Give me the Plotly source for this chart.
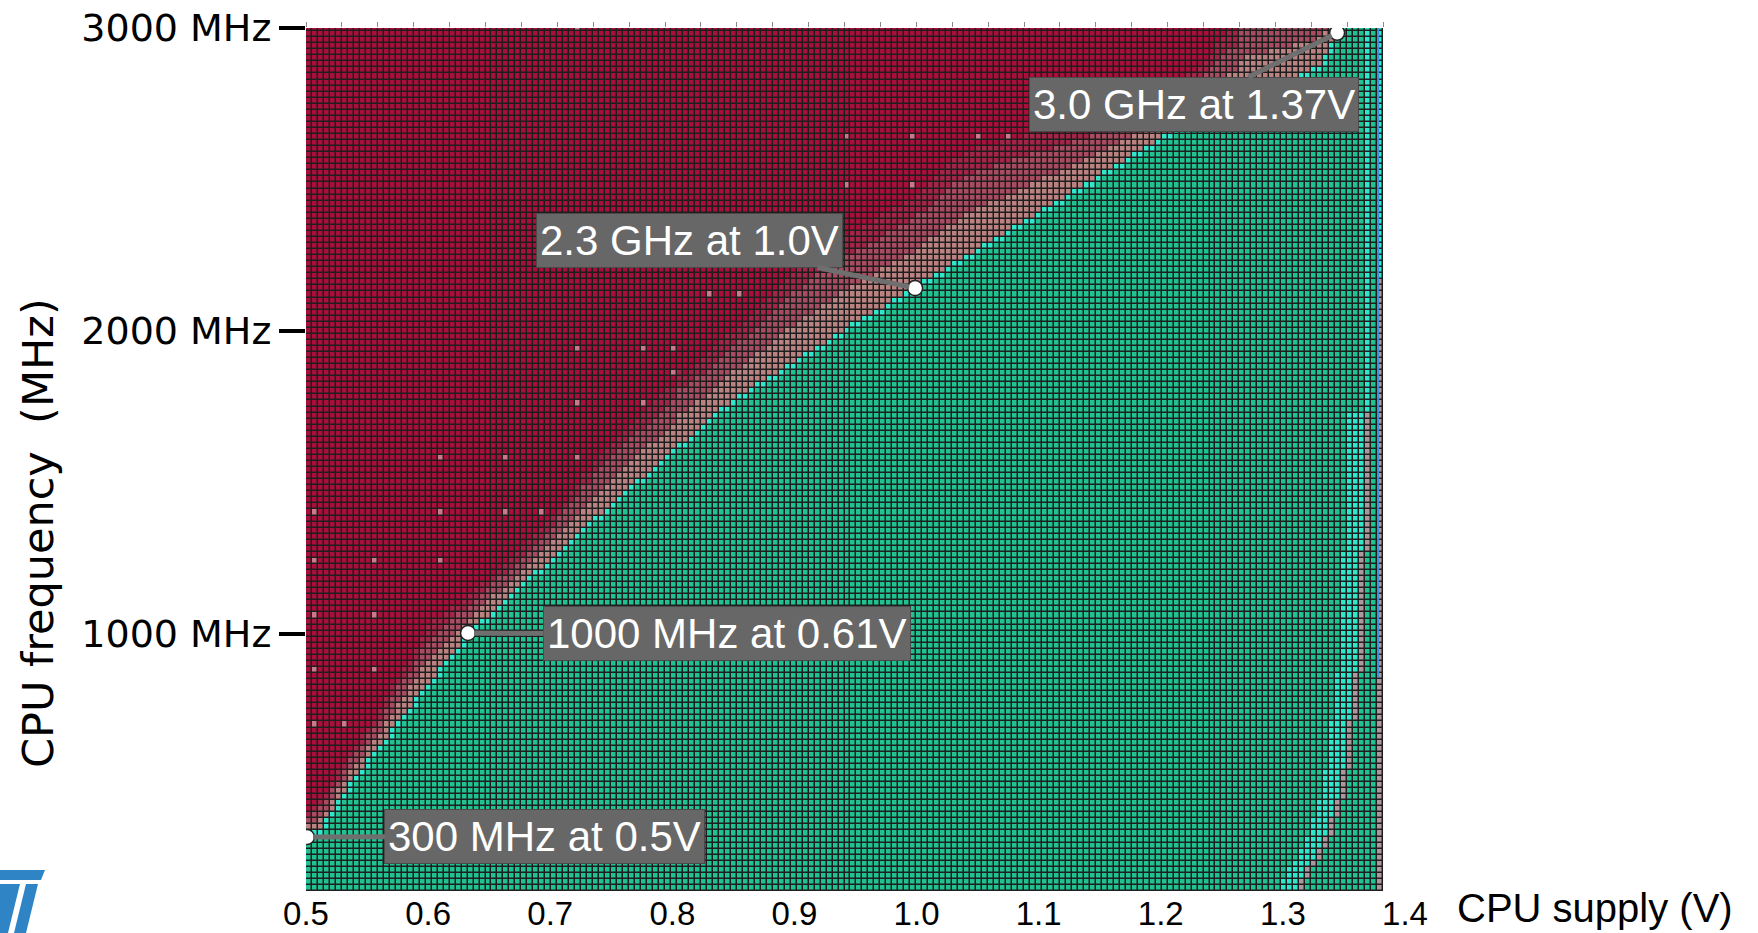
import numpy as np
import plotly.graph_objects as go

# ---------------- data ----------------
# shmoo grid
N_COLS = 180            # supply-voltage steps
V_START = 0.5           # V, left edge of the first column
V_STEP = 0.0049         # V per column
N_ROWS = 143            # frequency steps
F_START = 160           # MHz, centre of the lowest row
F_STEP = 20             # MHz per row

# highest passing frequency for every voltage column (MHz)
PASS_MAX_MHZ = [
    330, 340, 350, 380, 410, 440, 470, 500, 530, 555,
    580, 605, 630, 655, 680, 705, 730, 755, 780, 805,
    830, 855, 880, 905, 930, 955, 980, 1000, 1020, 1040,
    1055, 1075, 1090, 1110, 1125, 1145, 1160, 1180, 1200, 1215,
    1235, 1250, 1270, 1290, 1305, 1325, 1340, 1360, 1380, 1395,
    1415, 1430, 1450, 1465, 1485, 1500, 1515, 1535, 1550, 1570,
    1585, 1600, 1620, 1635, 1655, 1670, 1685, 1705, 1720, 1740,
    1755, 1770, 1783, 1795, 1808, 1820, 1833, 1845, 1858, 1870,
    1883, 1895, 1908, 1920, 1933, 1945, 1958, 1970, 1983, 1995,
    2008, 2020, 2030, 2042, 2054, 2066, 2078, 2090, 2102, 2114,
    2124, 2136, 2148, 2160, 2172, 2184, 2196, 2208, 2220, 2232,
    2244, 2256, 2268, 2280, 2292, 2304, 2316, 2328, 2340, 2352,
    2364, 2376, 2388, 2400, 2412, 2424, 2436, 2448, 2460, 2472,
    2484, 2496, 2508, 2520, 2532, 2544, 2556, 2568, 2580, 2592,
    2604, 2616, 2628, 2640, 2652, 2661, 2670, 2679, 2688, 2697,
    2706, 2715, 2724, 2733, 2742, 2750, 2759, 2768, 2777, 2786,
    2795, 2804, 2813, 2822, 2830, 2839, 2848, 2857, 2866, 2875,
    2910, 2945, 2980, 3000, 3000, 3000, 3000, 3000, 3000, 3000,
]

# lowest frequency that fails every run, per voltage column (MHz)
FAIL_MIN_MHZ = [
    420, 430, 450, 480, 510, 545, 580, 615, 640, 665,
    690, 720, 750, 790, 830, 860, 890, 920, 960, 1000,
    1030, 1045, 1060, 1075, 1090, 1100, 1110, 1130, 1150, 1165,
    1180, 1200, 1215, 1230, 1250, 1265, 1290, 1310, 1330, 1350,
    1370, 1395, 1420, 1440, 1470, 1490, 1530, 1540, 1570, 1590,
    1615, 1640, 1660, 1680, 1700, 1720, 1735, 1750, 1770, 1790,
    1805, 1820, 1880, 1860, 1880, 1900, 1915, 1930, 1950, 1965,
    1985, 2000, 2020, 2040, 2060, 2080, 2100, 2120, 2140, 2160,
    2180, 2200, 2215, 2235, 2250, 2265, 2280, 2290, 2300, 2310,
    2320, 2330, 2340, 2350, 2360, 2375, 2390, 2400, 2410, 2420,
    2430, 2440, 2460, 2480, 2500, 2520, 2540, 2560, 2570, 2580,
    2590, 2600, 2605, 2610, 2615, 2620, 2625, 2630, 2635, 2640,
    2645, 2650, 2650, 2655, 2660, 2660, 2665, 2670, 2675, 2680,
    2685, 2690, 2700, 2705, 2710, 2720, 2730, 2740, 2745, 2750,
    2760, 2770, 2780, 2790, 2800, 2815, 2830, 2845, 2860, 2880,
    2900, 2920, 2950, 2975, 2990, 3000, 3100, 3100, 3100, 3100,
    3100, 3100, 3100, 3100, 3100, 3100, 3100, 3100, 3100, 3100,
    3100, 3100, 3100, 3100, 3100, 3100, 3100, 3100, 3100, 3100,
]

# isolated odd results inside the failing area (V, MHz)
SPECKLE_V = [0.5074, 0.5074, 0.5319, 0.5074, 0.5564, 0.5074, 0.5564, 0.5074, 0.5564,
             0.6103, 0.6103, 0.6642, 0.6936, 0.6103, 0.6642, 0.7230, 0.7230, 0.7769,
             0.7230, 0.7769, 0.8014, 0.8014, 0.8308, 0.8553, 0.9435, 0.9974, 1.0513,
             1.0758, 0.9435, 0.9974, 0.7230]
SPECKLE_MHZ = [700, 880, 700, 1060, 880, 1240, 1060, 1400, 1240,
               1240, 1400, 1400, 1400, 1580, 1580, 1580, 1760, 1760,
               1940, 1940, 1940, 1860, 2120, 2120, 2640, 2640, 2640,
               2640, 2480, 2480, 3000]

# high-voltage failure edge at low frequency: column voltage and top of each run (MHz)
HV_EDGE_V = [1.3159, 1.3208, 1.3257, 1.3306, 1.3355, 1.3404, 1.3453, 1.3502,
             1.3551, 1.3600, 1.3649, 1.3698]
HV_EDGE_TOP_MHZ = [180, 220, 240, 280, 320, 380, 440, 540, 700, 860, 1260, 1720]
LAST_COL_GRAY_MAX_MHZ = 2160

# supply limit line (V) and its frequency span (MHz)
LIMIT_V = 1.378
LIMIT_F = [856, 3000]

# annotated operating points
MARK_V = [0.5008, 0.6327, 0.9988, 1.3444]
MARK_F = [328, 1002, 2141, 2984]
MARK_TEXT = ["300 MHz at 0.5V", "1000 MHz at 0.61V", "2.3 GHz at 1.0V", "3.0 GHz at 1.37V"]

X_TICKS = [0.5, 0.6, 0.7, 0.8, 0.9, 1.0, 1.1, 1.2, 1.3, 1.4]
X_TICK_TEXT = ["0.5", "0.6", "0.7", "0.8", "0.9", "1.0", "1.1", "1.2", "1.3", "1.4"]
Y_TICKS = [1000, 2000, 3000]
Y_TICK_TEXT = ["1000 MHz", "2000 MHz", "3000 MHz"]

# ---------------- build the shmoo matrix ----------------
PASS, EDGE, GRAY, MIX, MIX2, FAIL, SPECK, HVG = range(8)
COLORS = ["#1fc290", "#30e6cb", "#bb8282", "#a94c62", "#a42548",
          "#a90f3a", "#cc7a8a", "#ad989d"]

V = V_START + V_STEP * (np.arange(N_COLS) + 0.5)
F = F_START + F_STEP * np.arange(N_ROWS)
z = np.full((N_ROWS, N_COLS), FAIL, dtype=int)

for c in range(N_COLS):
    p, q = PASS_MAX_MHZ[c], FAIL_MIN_MHZ[c]
    for r, f in enumerate(F):
        if f <= p:
            z[r, c] = PASS
        elif f < q:
            frac = (f - p) / (q - p)
            z[r, c] = GRAY if frac < 0.4 else (MIX if frac < 0.75 else MIX2)

# edge of the passing region
passing = z == PASS
edge = np.zeros_like(passing)
edge[:-1, :] |= passing[:-1, :] & ~passing[1:, :]
edge[:, 1:] |= passing[:, 1:] & ~passing[:, :-1]
z[edge] = EDGE


def col_of(v):
    return int(round((v - V_START) / V_STEP - 0.5))


def row_of(f):
    return int(round((f - F_START) / F_STEP))


for v, f in zip(SPECKLE_V, SPECKLE_MHZ):
    c, r = col_of(v), row_of(f)
    if 0 <= r < N_ROWS and z[r, c] in (FAIL, MIX2):
        z[r, c] = SPECK

lo = F_START
for v, top in zip(HV_EDGE_V, HV_EDGE_TOP_MHZ):
    c = col_of(v)
    for r in range(row_of(lo), row_of(top) + 1):
        z[r, c] = HVG
        for k in (1, 2, 3):
            if z[r, c - k] == PASS:
                z[r, c - k] = EDGE
    lo = top + F_STEP
c_hv = col_of(HV_EDGE_V[-1])
for r in range(row_of(lo), N_ROWS):
    if z[r, c_hv] == PASS:
        z[r, c_hv] = EDGE
for r in range(N_ROWS):
    if F[r] <= LAST_COL_GRAY_MAX_MHZ:
        z[r, N_COLS - 1] = HVG
    elif z[r, N_COLS - 1] == PASS:
        z[r, N_COLS - 1] = EDGE

n = len(COLORS)
cscale = []
for i, col in enumerate(COLORS):
    cscale.append([i / n, col])
    cscale.append([(i + 1) / n, col])

# ---------------- figure ----------------
W, H = 1758, 933
L, R, T, B = 306, 1405, 28, 891       # plot area in pixels


def px(xp):
    return (xp - L) / (R - L)


def py(yp):
    return (B - yp) / (B - T)


fig = go.Figure()
fig.add_trace(go.Heatmap(
    x=V, y=F, z=z, colorscale=cscale, zmin=-0.5, zmax=n - 0.5,
    showscale=False, xgap=1.5, ygap=1.5, hoverinfo="skip",
))
fig.add_trace(go.Scatter(
    x=[LIMIT_V, LIMIT_V], y=LIMIT_F, mode="lines", xaxis="x2",
    line=dict(color="#3d8fd8", width=2), hoverinfo="skip", showlegend=False,
))
fig.add_trace(go.Scatter(
    x=MARK_V, y=MARK_F, mode="markers",
    marker=dict(symbol="circle", size=15, color="white",
                line=dict(color="#222222", width=1.5)),
    hoverinfo="skip", showlegend=False,
))

label_pos = [(0.6957, 331), (0.8448, 999), (0.8137, 2298), (1.2273, 2749)]
annotations = []
for mv, mf, t, (lv, lf) in zip(MARK_V, MARK_F, MARK_TEXT, label_pos):
    annotations.append(dict(
        x=mv, y=mf, xref="x", yref="y", ax=lv, ay=lf, axref="x", ayref="y",
        text=t, showarrow=True, arrowhead=0, arrowwidth=5, arrowcolor="#6f6f6f",
        standoff=6,
        font=dict(family="Liberation Sans, Arial, sans-serif", size=42, color="white"),
        bgcolor="#676767", bordercolor="#4a4a4a", borderwidth=1, borderpad=3,
    ))

annotations.append(dict(
    text="CPU frequency\u00a0 (MHz)", textangle=-90, xref="paper", yref="paper",
    x=px(38), y=py(533), xanchor="center", yanchor="middle", showarrow=False,
    font=dict(family="DejaVu Sans, sans-serif", size=43, color="black"),
))
annotations.append(dict(
    text="CPU supply (V)", xref="paper", yref="paper",
    x=px(1455), y=py(932), xanchor="left", yanchor="bottom", showarrow=False,
    font=dict(family="Liberation Sans, Arial, sans-serif", size=40, color="black"),
))


def poly(points):
    s = "M " + " L ".join(f"{px(a):.5f},{py(b):.5f}" for a, b in points) + " Z"
    return dict(type="path", path=s, xref="paper", yref="paper",
                fillcolor="#2f84c6", line=dict(width=0), layer="above")


v_end = V_START + V_STEP * N_COLS
shapes = [
    dict(type="rect", xref="x", yref="y", x0=V_START, x1=v_end, y0=140, y1=3010,
         fillcolor="#1e1e1e", line=dict(width=0), layer="below"),
    poly([(0, 870), (45, 870), (41, 880), (0, 880)]),
    poly([(0, 884), (20, 884), (8, 933), (0, 933)]),
    poly([(26, 884), (38, 884), (26, 933), (14, 933)]),
]

fig.update_layout(
    width=W, height=H,
    margin=dict(l=L, r=W - R, t=T, b=H - B, pad=0, autoexpand=False),
    paper_bgcolor="white", plot_bgcolor="white",
    showlegend=False,
    xaxis=dict(range=[0.5, 1.4], tickvals=X_TICKS, ticktext=X_TICK_TEXT,
               ticks="", showgrid=False, zeroline=False, showline=False,
               ticklabelstandoff=0, automargin=False,
               tickfont=dict(family="Liberation Sans, Arial, sans-serif", size=33,
                             color="black")),
    xaxis2=dict(overlaying="x", side="top", range=[0.5, 1.4],
                tickvals=[V_START + V_STEP * 6 * k for k in range(31)],
                ticks="outside", ticklen=5, tickwidth=1, tickcolor="#8a8a8a",
                showticklabels=False, showgrid=False, zeroline=False, showline=False,
                automargin=False),
    yaxis=dict(range=[150, 3000], tickvals=Y_TICKS, ticktext=Y_TICK_TEXT,
               ticks="outside", ticklen=26, tickwidth=4, tickcolor="black",
               showgrid=False, zeroline=False, showline=False, automargin=False,
               tickfont=dict(family="DejaVu Sans, sans-serif", size=38, color="black")),
    annotations=annotations,
    shapes=shapes,
)

fig.write_html("out.html")
